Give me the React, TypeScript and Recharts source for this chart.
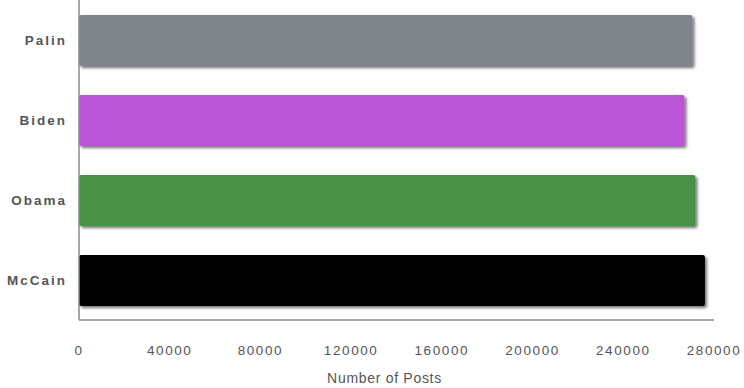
import React from "react";
import { BarChart, Bar, XAxis, YAxis, Cell, Rectangle } from "recharts";

// Posts per candidate, listed top to bottom
const candidates = ["Palin", "Biden", "Obama", "McCain"];
const postCounts = [270500, 267000, 271800, 276000];
const barColors = ["#80848b", "#b954d4", "#4a9146", "#000000"];
const xTicks = [0, 40000, 80000, 120000, 160000, 200000, 240000, 280000];

const data = candidates.map((name, i) => ({ name, posts: postCounts[i] }));

const axisColor = "#8a8a8a";
const textColor = "#555555";
const fontFamily = "'Liberation Sans', Arial, Helvetica, sans-serif";

const ShadowBar = (props: any) => (
  <Rectangle {...props} radius={2} filter="url(#barShadow)" />
);

export default function App() {
  return (
    <div style={{ position: "absolute", left: 0, top: 0, width: 744, height: 388, background: "#fff" }}>
      <BarChart
        width={744}
        height={388}
        data={data}
        layout="vertical"
        margin={{ top: 0, right: 30, bottom: 0, left: 0 }}
      >
        <defs>
          <filter id="barShadow" x="-5%" y="-20%" width="115%" height="150%">
            <feDropShadow dx="2" dy="2" stdDeviation="1.4" floodColor="#000" floodOpacity="0.55" />
          </filter>
        </defs>
        <XAxis
          type="number"
          domain={[0, 280000]}
          ticks={xTicks}
          interval={0}
          height={68}
          tickLine={false}
          tickSize={0}
          tickMargin={25}
          axisLine={{ stroke: axisColor, strokeWidth: 1.5 }}
          tick={{ fill: textColor, fontSize: 13.5, fontFamily, letterSpacing: 1.6 }}
          label={{
            value: "Number of Posts",
            position: "insideBottom",
            offset: 5,
            dx: -12,
            fill: textColor,
            fontSize: 14,
            fontFamily,
            letterSpacing: 0.7,
          }}
        />
        <YAxis
          type="category"
          dataKey="name"
          width={79}
          tickLine={false}
          tickSize={0}
          tickMargin={12}
          axisLine={{ stroke: axisColor, strokeWidth: 1.5 }}
          tick={{ fill: textColor, fontSize: 13.5, fontWeight: "bold", fontFamily, letterSpacing: 2 }}
        />
        <Bar dataKey="posts" barSize={51} shape={ShadowBar} isAnimationActive={false}>
          {data.map((d, i) => (
            <Cell key={d.name} fill={barColors[i]} />
          ))}
        </Bar>
      </BarChart>
    </div>
  );
}
